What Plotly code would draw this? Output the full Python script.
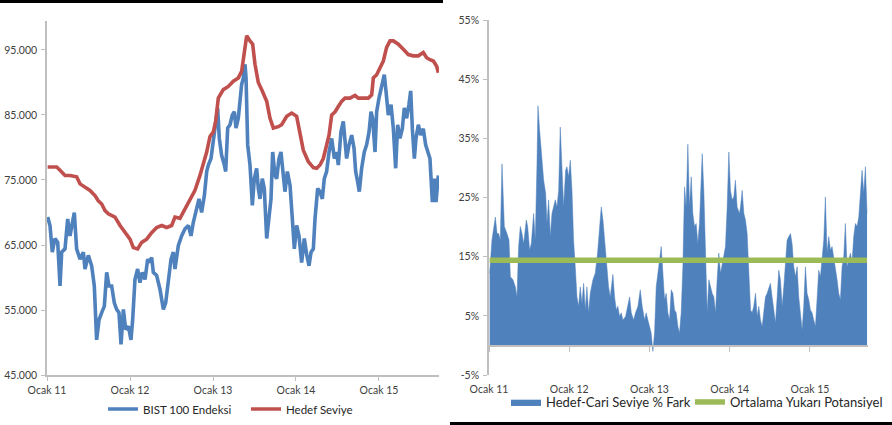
import plotly.graph_objects as go

BASE_YEAR = 2011

# ---- Left chart: BIST 100 Endeksi vs Hedef Seviye (x in years since Ocak 2011) ----
t_bist = [0.008,0.036,0.064,0.096,0.129,0.157,0.177,0.217,0.249,0.277,0.329,0.357,0.398,0.438,0.458,0.498,0.538,0.570,0.598,0.627,
          0.659,0.691,0.719,0.747,0.779,0.811,0.839,0.867,0.892,0.920,0.948,0.980,1.012,1.032,1.060,1.092,1.120,1.149,1.181,1.213,
          1.241,1.261,1.281,1.321,1.361,1.402,1.430,1.462,1.494,1.522,
          1.542,1.582,1.622,1.663,1.703,1.735,1.763,1.803,1.831,1.863,1.896,1.924,1.944,1.976,2.004,2.032,2.056,2.076,2.104,2.137,
          2.153,2.177,2.205,2.233,2.257,2.277,2.305,2.325,2.345,2.365,2.386,2.398,2.418,2.446,2.474,2.498,2.526,2.546,2.566,2.594,
          2.618,2.647,2.667,2.699,2.719,2.747,2.767,2.795,2.819,2.847,2.867,2.896,2.928,2.956,2.980,3.008,3.036,3.068,3.100,
          3.129,3.157,3.181,3.209,3.229,3.261,3.289,3.317,3.341,3.369,3.398,3.430,3.462,3.490,3.510,3.542,3.570,3.590,3.610,3.639,
          3.671,3.699,3.719,3.743,3.763,3.791,3.823,3.851,3.880,3.904,3.924,3.952,3.972,4.000,4.032,4.064,4.084,4.112,4.145,4.173,
          4.201,4.225,4.253,4.281,4.305,4.333,4.361,4.382,4.402,4.426,4.446,4.474,4.502,4.534,4.562,4.586,4.614,4.643,4.667,4.687,4.715]
bist = [69300,68000,63900,66000,65400,58700,63900,64400,69000,66400,70000,64400,62800,63900,61300,63400,61800,58700,50400,53500,
        54600,55600,60800,58700,58700,56100,55100,54600,49700,55100,52000,52500,50400,53500,59700,61300,59200,60800,59700,62800,
        62300,63100,60800,60300,58200,55100,56100,59200,62800,63900,
        61300,64900,66400,67500,68000,66400,68500,70600,72100,70000,72600,76300,77300,78300,80900,83000,86100,81400,78800,77300,
        76300,83000,83500,85000,85500,83000,84500,87100,89700,90700,92800,90700,80400,77300,71100,75200,76800,73700,72100,75200,
        73700,66000,68000,72100,79300,75700,75200,78300,79300,75200,73200,76300,74200,69000,64400,68000,66400,62300,66000,
        63500,61800,63900,64400,69000,73700,73200,72100,75200,76300,79300,81400,78300,79300,77300,82400,84000,81400,78300,80400,
        81900,79900,76300,74700,73200,76800,79300,80400,82400,85500,84500,79300,85500,87600,89200,91200,88700,85000,86600,82900,
        76800,83500,81400,82900,86100,84500,86600,88700,82900,78300,81400,83500,81900,82900,80400,79300,78300,71600,75200,71600,75700]

t_hedef = [0.008,0.056,0.116,0.157,0.217,0.277,0.357,0.398,0.458,0.518,0.578,0.618,0.659,0.699,0.739,0.819,0.880,0.940,1.000,1.040,
           1.092,1.141,1.201,1.261,1.321,1.382,1.442,1.502,1.542,1.602,1.663,1.723,1.783,1.843,1.884,1.924,1.964,2.004,2.032,2.064,
           2.124,2.185,2.245,2.305,2.345,2.386,2.406,2.446,2.478,2.506,2.546,2.594,2.647,2.687,2.727,2.787,2.827,2.888,2.948,3.008,
           3.048,3.088,3.149,3.209,3.249,3.289,3.329,3.369,3.398,3.430,3.471,3.510,3.550,3.590,3.651,3.711,3.751,3.811,3.871,3.912,
           3.932,3.972,4.012,4.052,4.092,4.133,4.173,4.233,4.293,4.353,4.414,4.474,4.534,4.574,4.614,4.655,4.695,4.715]
hedef = [77000,77000,77000,76500,75700,75700,75500,74400,73900,73400,72600,71800,71300,70300,69800,69300,68000,66900,65900,64600,
         64400,65400,65900,66900,67700,68000,67700,68000,69300,69100,70600,71900,73400,75700,77300,79300,81700,82400,84000,87600,
         88900,89400,90200,90700,91700,95900,97200,96400,95900,92800,90000,88700,87100,84500,83000,83200,83500,84800,85300,84800,
         81900,79600,77800,76900,76800,77300,78300,80100,81900,85000,85500,86300,87100,87600,87600,88000,87600,87600,87600,88100,
         90700,91200,92300,93300,95400,96400,96400,95900,95100,94300,94100,94100,94600,93800,93500,93300,92500,91500]

# ---- Right chart: Hedef-Cari Seviye % Fark ----
t_fark = [0.008,0.037,0.079,0.100,0.120,0.141,0.162,0.174,0.191,0.224,0.249,0.266,0.299,0.328,0.349,0.369,0.390,0.411,0.432,0.465,
          0.482,0.506,0.527,0.556,0.577,0.598,0.610,0.631,0.652,0.681,0.706,0.722,0.743,0.764,0.785,0.805,0.826,0.847,0.868,0.888,
          0.909,0.930,0.955,0.971,0.992,1.013,1.034,1.054,1.075,1.096,1.117,1.137,1.158,1.179,1.200,1.220,1.241,1.262,1.295,1.324,
          1.353,1.378,1.399,1.420,1.440,1.461,1.490,1.511,1.544,
          1.565,1.586,1.606,1.627,1.648,1.669,1.702,1.731,1.752,1.773,1.802,1.826,1.856,1.885,1.909,1.939,1.959,1.980,2.001,2.021,
          2.042,2.063,2.084,2.105,2.125,2.146,2.167,2.188,2.208,2.229,2.250,2.271,2.291,2.312,2.333,2.354,2.374,2.395,2.416,2.437,
          2.457,2.478,2.499,2.520,2.540,2.561,2.582,2.602,2.623,2.644,2.657,2.677,2.698,2.719,2.740,2.760,2.781,2.802,2.823,2.843,
          2.864,2.885,2.906,2.926,2.947,2.968,2.989,3.009,3.030,3.051,3.071,3.092,3.121,
          3.134,3.155,3.176,3.196,3.217,3.238,3.259,3.279,3.300,3.321,3.342,3.362,3.383,3.404,3.424,3.445,3.466,3.487,3.507,3.528,
          3.549,3.570,3.591,3.611,3.632,3.653,3.674,3.694,3.715,3.736,3.757,3.777,3.798,3.819,3.840,3.860,3.881,3.902,3.922,3.943,
          3.964,3.985,4.005,4.026,4.047,4.068,4.088,4.109,4.130,4.151,4.172,4.192,4.213,4.234,4.255,4.275,4.296,4.317,4.338,4.358,
          4.379,4.400,4.421,4.441,4.462,4.483,4.504,4.524,4.545,4.566,4.587,4.608,4.628,4.649,4.670,4.691,4.711]
fark = [12.2,17.8,21.7,18.9,18.9,17.8,30.7,25.7,20.1,18.9,17.8,11.6,11.1,9.9,8.2,16.7,20.1,18.9,17.2,21.2,
        20.1,16.1,17.2,22.3,17.8,30.7,40.5,36.3,32.4,27.9,25.7,20.6,24.6,18.4,22.3,23.4,24.6,23.4,26.2,36.9,
        29.0,23.4,29.6,30.2,28.5,31.3,26.2,17.8,13.3,8.2,6.6,9.9,7.1,10.5,6.0,9.9,5.5,8.8,11.1,12.2,
        15.6,19.5,23.4,21.2,17.8,14.4,9.9,8.2,12.0,
        8.2,6.0,6.6,4.9,5.5,4.3,4.9,7.1,8.2,5.5,4.3,5.5,6.6,9.4,6.6,4.3,5.5,4.3,3.2,2.1,
        -1.0,2.1,9.9,12.7,14.4,16.7,12.2,7.7,8.8,5.5,4.3,9.4,8.8,6.0,5.5,3.2,2.1,5.5,13.3,26.8,
        23.4,34.0,23.4,28.5,22.3,20.1,20.6,17.2,20.6,27.9,32.4,26.2,16.1,5.5,11.1,9.9,8.8,8.2,5.5,11.1,
        15.6,12.2,13.9,15.6,16.7,23.4,32.7,26.2,24.6,25.1,27.9,23.4,22.3,
        23.4,26.2,22.3,21.2,18.9,11.1,6.0,5.5,6.6,8.8,4.9,6.6,4.3,3.2,5.5,8.2,8.8,9.9,10.5,8.2,
        5.5,3.8,8.2,12.7,11.1,6.6,9.9,13.3,17.8,18.4,18.9,17.2,13.3,11.6,13.3,8.2,5.5,2.6,6.6,13.3,
        8.8,7.7,6.0,5.5,4.3,3.2,7.7,12.7,11.6,14.4,17.8,25.1,15.6,18.4,16.1,16.7,15.0,13.3,11.1,8.8,
        7.7,13.3,15.0,20.6,13.3,14.4,15.6,13.9,18.4,20.6,20.1,21.7,25.1,29.6,25.7,30.2,22.3]
ortalama_potansiyel = 14.4

x_tickvals = [2011, 2012, 2013, 2014, 2015]
x_ticktext = ["Ocak 11", "Ocak 12", "Ocak 13", "Ocak 14", "Ocak 15"]
y_left_ticks = [45000, 55000, 65000, 75000, 85000, 95000]
y_right_ticks = [-5, 5, 15, 25, 35, 45, 55]
y_right_ticktext = ["-5%", "5%", "15%", "25%", "35%", "45%", "55%"]

W, H = 892, 425
FONT = "Lato"
TICK_COLOR = "#404040"
AXIS_COLOR = "#BFBFBF"

def fx(p):
    return p / W

def fy(p):
    return 1 - p / H

x_end = BASE_YEAR + 4.723

fig = go.Figure()
fig.add_trace(go.Scatter(x=[BASE_YEAR + t for t in t_bist], y=bist, mode="lines", name="BIST 100 Endeksi",
                         line=dict(color="#4F81BD", width=3.6), xaxis="x", yaxis="y", legend="legend"))
fig.add_trace(go.Scatter(x=[BASE_YEAR + t for t in t_hedef], y=hedef, mode="lines", name="Hedef Seviye",
                         line=dict(color="#C0504D", width=3.6), xaxis="x", yaxis="y", legend="legend"))
fig.add_trace(go.Scatter(x=[BASE_YEAR + t for t in t_fark], y=fark, mode="lines", name="Hedef-Cari Seviye % Fark",
                         fill="tozeroy", fillcolor="#4F81BD", line=dict(color="#4F81BD", width=0.5),
                         xaxis="x2", yaxis="y2", legend="legend2"))
fig.add_trace(go.Scatter(x=[BASE_YEAR + t_fark[0], BASE_YEAR + t_fark[-1]],
                         y=[ortalama_potansiyel, ortalama_potansiyel], mode="lines",
                         name="Ortalama Yukarı Potansiyel", line=dict(color="#9BBB59", width=5.5),
                         xaxis="x3", yaxis="y2", legend="legend2", legendwidth=160))

tickfont = dict(family=FONT, size=10.5, color=TICK_COLOR)

fig.update_layout(
    width=W, height=H,
    margin=dict(l=0, r=0, t=0, b=0, autoexpand=False),
    paper_bgcolor="white", plot_bgcolor="white",
    separators=",.",
    font=dict(family=FONT, color=TICK_COLOR),
    xaxis=dict(domain=[fx(47), fx(439)], range=[BASE_YEAR, x_end], anchor="y",
               tickvals=x_tickvals, ticktext=x_ticktext, tickfont=tickfont, automargin=False,
               showline=True, linecolor=AXIS_COLOR, linewidth=1.5, ticks="outside", ticklen=4,
               tickcolor=AXIS_COLOR, showgrid=False, zeroline=False, ticklabelstandoff=1),
    yaxis=dict(domain=[fy(375), fy(21)], range=[45000, 99460], anchor="x",
               tickvals=y_left_ticks, tickformat=",.0f", tickfont=tickfont, automargin=False,
               showline=True, linecolor=AXIS_COLOR, linewidth=1.5, ticks="outside", ticklen=4,
               tickcolor=AXIS_COLOR, showgrid=False, zeroline=False, ticklabelstandoff=2),
    xaxis2=dict(domain=[fx(489), fx(868)], range=[BASE_YEAR, x_end], anchor="y2",
                tickvals=x_tickvals, ticktext=x_ticktext, tickfont=tickfont, automargin=False,
                showline=False, ticks="", showgrid=False, zeroline=False, ticklabelstandoff=6),
    xaxis3=dict(overlaying="x2", anchor="free", position=fy(346), range=[BASE_YEAR, x_end],
                tickvals=x_tickvals, showticklabels=False, automargin=False,
                showline=True, linecolor=AXIS_COLOR, linewidth=1.5, ticks="outside", ticklen=5,
                tickcolor=AXIS_COLOR, showgrid=False, zeroline=False),
    yaxis2=dict(domain=[fy(375), fy(20)], range=[-5, 55], anchor="x2",
                tickvals=y_right_ticks, ticktext=y_right_ticktext, tickfont=tickfont, automargin=False,
                showline=True, linecolor=AXIS_COLOR, linewidth=1.5, ticks="outside", ticklen=4,
                tickcolor=AXIS_COLOR, showgrid=False, zeroline=False, ticklabelstandoff=2),
    legend=dict(orientation="h", x=fx(103), xanchor="left", y=fy(409), yanchor="middle",
                font=dict(family=FONT, size=11.5, color="#262626"), itemwidth=30,
                entrywidth=98, entrywidthmode="pixels", bgcolor="rgba(0,0,0,0)"),
    legend2=dict(orientation="h", x=fx(506), xanchor="left", y=fy(402), yanchor="middle",
                 font=dict(family=FONT, size=13, color="#262626"), itemwidth=30,
                 entrywidth=139, entrywidthmode="pixels", bgcolor="rgba(0,0,0,0)"),
    shapes=[
        dict(type="rect", xref="paper", yref="paper", x0=0, x1=fx(443), y0=fy(3), y1=1,
             fillcolor="black", line=dict(width=0)),
        dict(type="rect", xref="paper", yref="paper", x0=fx(450), x1=1, y0=0, y1=fy(422),
             fillcolor="black", line=dict(width=0)),
    ],
)

fig.write_html("out.html", config={"displayModeBar": False},
               post_script="document.body.style.margin='0';document.body.style.padding='0';")
